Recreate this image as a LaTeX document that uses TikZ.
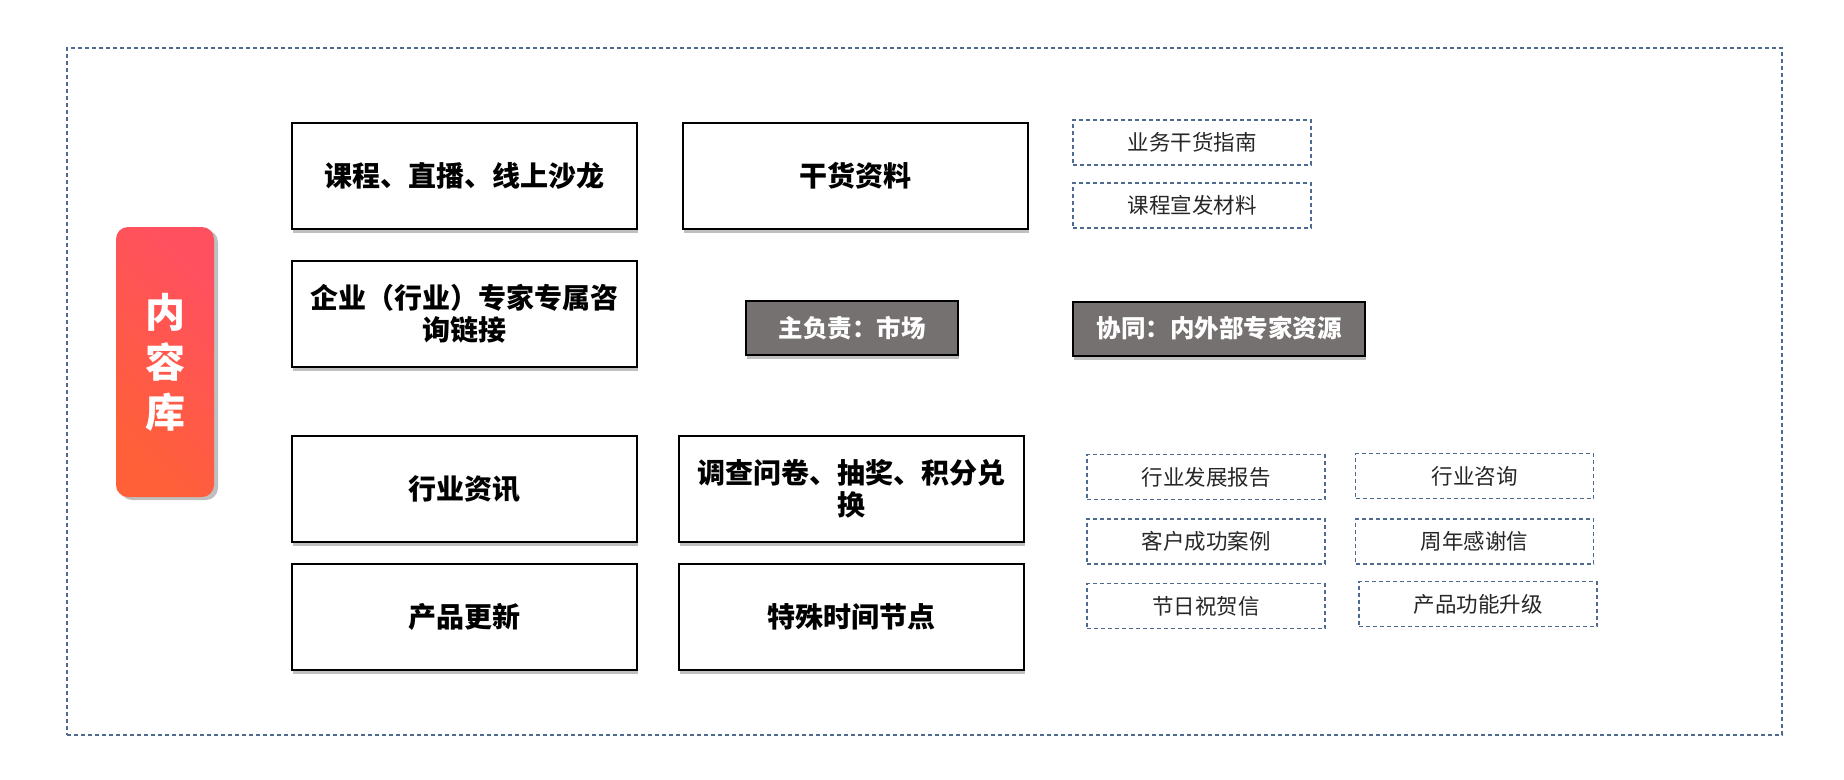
\documentclass[tikz,border=0pt]{standalone}
\usepackage{fontspec}
\setmainfont{Noto Sans CJK SC}
\newfontfamily\cjk{Noto Sans CJK SC}
\usetikzlibrary{shadows}
\definecolor{dashblue}{HTML}{4F6A90}
\definecolor{boxgray}{HTML}{767171}
\definecolor{redtop}{HTML}{FF5060}
\definecolor{redbot}{HTML}{FF6038}
\tikzset{
  mainbox/.style={draw=black, line width=2pt, fill=white, minimum width=345pt, minimum height=106pt,
    inner sep=0pt, align=center, font=\cjk\bfseries\fontsize{28}{32}\selectfont,
    drop shadow={shadow xshift=1pt, shadow yshift=-4pt, opacity=0.25, fill=black}},
  graybox/.style={draw=black, line width=2pt, fill=boxgray, text=white, minimum height=54pt,
    inner sep=0pt, font=\cjk\bfseries\fontsize{24.5}{28}\selectfont,
    drop shadow={shadow xshift=1pt, shadow yshift=-4pt, opacity=0.25, fill=black}},
  dbox/.style={draw=dashblue, line width=1.1pt, dash pattern=on 4pt off 3pt, minimum width=238pt,
    minimum height=45pt, inner sep=0pt, text=black!85, font=\cjk\fontsize{21.5}{25}\selectfont},
}
\begin{document}
\begin{tikzpicture}[x=1pt, y=-1pt]
\useasboundingbox (0,0) rectangle (1844,779);
% outer frame
\node[draw=dashblue, line width=1.1pt, dash pattern=on 4pt off 3pt, minimum width=1715pt, minimum height=687pt, inner sep=0pt] (frame) at (924.5,391.5) {};
% red label
\node[rounded corners=12pt, top color=redtop, bottom color=redbot, shading angle=-45,
  minimum width=98pt, minimum height=270pt, inner sep=0pt, text=white, align=center,
  font=\cjk\bfseries\fontsize{40}{50}\selectfont,
  drop shadow={shadow xshift=4pt, shadow yshift=-3pt, opacity=0.25, fill=black}] (lib) at (165,362) {内\\容\\库};
% main boxes
\node[mainbox] (a) at (464.5,176) {课程、直播、线上沙龙};
\node[mainbox] (b) at (855,176) {干货资料};
\node[mainbox] (c) at (464.5,314) {企业（行业）专家专属咨\\询链接};
\node[mainbox] (d) at (464.5,489) {行业资讯};
\node[mainbox] (e) at (851.5,489) {调查问卷、抽奖、积分兑\\换};
\node[mainbox] (f) at (464.5,617) {产品更新};
\node[mainbox] (g) at (851.5,617) {特殊时间节点};
% gray boxes
\node[graybox, minimum width=212pt] (g1) at (852,328) {主负责：市场};
\node[graybox, minimum width=292pt] (g2) at (1219,328.5) {协同：内外部专家资源};
% dashed boxes
\node[dbox] (d1) at (1192,142.5) {业务干货指南};
\node[dbox] (d2) at (1192,205.5) {课程宣发材料};
\node[dbox] (d3) at (1206,477) {行业发展报告};
\node[dbox] (d4) at (1474.5,476) {行业咨询};
\node[dbox] (d5) at (1206,541.5) {客户成功案例};
\node[dbox] (d6) at (1474.5,541.5) {周年感谢信};
\node[dbox] (d7) at (1206,606) {节日祝贺信};
\node[dbox] (d8) at (1478,604) {产品功能升级};
\end{tikzpicture}
\end{document}
